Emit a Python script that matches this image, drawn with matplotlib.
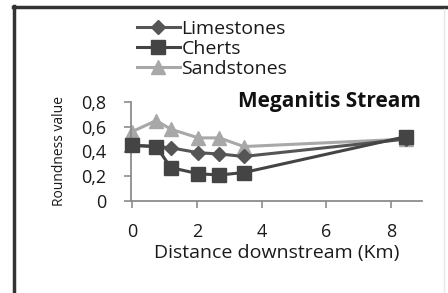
import matplotlib
matplotlib.use('Agg')
import matplotlib.pyplot as plt
from matplotlib.lines import Line2D

# distance downstream (km) and roundness values
distance = [0, 0.75, 1.2, 2.05, 2.7, 3.45, 8.45]
limestones = [0.45, 0.44, 0.43, 0.39, 0.38, 0.36, 0.50]
cherts = [0.45, 0.44, 0.27, 0.22, 0.21, 0.23, 0.52]
sandstones = [0.56, 0.65, 0.58, 0.51, 0.51, 0.44, 0.50]

xticks = [0, 2, 4, 6, 8]
xlabels = ['0', '2', '4', '6', '8']
yticks = [0, 0.2, 0.4, 0.6, 0.8]
ylabels = ['0', '0,2', '0,4', '0,6', '0,8']

plt.rcParams['font.family'] = ['Open Sans', 'DejaVu Sans']

W, H = 448, 293
fig = plt.figure(figsize=(W / 100, H / 100), dpi=100)
ax = fig.add_axes([131 / W, 1 - 201 / H, (422 - 131) / W, (201 - 102) / H])

ax.plot(distance, limestones, color='#555555', lw=2.2, marker='D', ms=7,
        label='Limestones', clip_on=False, zorder=3)
ax.plot(distance, cherts, color='#444444', lw=2.2, marker='s', ms=10,
        label='Cherts', clip_on=False, zorder=4)
ax.plot(distance, sandstones, color='#a8a8a8', lw=2.2, marker='^', ms=10,
        label='Sandstones', clip_on=False, zorder=2)

ax.set_xlim(-0.03, 8.95)
ax.set_ylim(0, 0.8)
ax.set_xticks(xticks)
ax.set_xticklabels(xlabels)
ax.set_yticks(yticks)
ax.set_yticklabels(ylabels)

for s in ['top', 'right']:
    ax.spines[s].set_visible(False)
for s in ['left', 'bottom']:
    ax.spines[s].set_color('#8c8c8c')
    ax.spines[s].set_linewidth(1.3)
ax.tick_params(direction='out', length=5, width=1.2, color='#8c8c8c',
               labelsize=13, labelcolor='#1a1a1a')
ax.tick_params(axis='x', pad=11)
ax.tick_params(axis='y', pad=13)

ax.set_xlabel('Distance downstream (Km)', fontsize=14, color='#1a1a1a', labelpad=2)
ax.set_ylabel('Roundness value', fontsize=10, color='#1a1a1a', labelpad=10)

fig.text(421 / W, 1 - 101 / H, 'Meganitis Stream', fontsize=15, fontweight='bold',
         ha='right', va='center', color='#111111')

fig.legend(loc='upper left', bbox_to_anchor=(129 / W, 1 - 12 / H), frameon=False,
           fontsize=14, handlelength=2.2, handletextpad=0.1, labelspacing=0.1,
           borderaxespad=0, labelcolor='#1a1a1a')

# outer picture frame
fig.add_artist(Line2D([14 / W, 14 / W], [0, 1 - 6 / H], color='#333333', lw=2.5,
                      transform=fig.transFigure))
fig.add_artist(Line2D([13 / W, 1], [1 - 6.5 / H, 1 - 6.5 / H], color='#333333', lw=2.5,
                      transform=fig.transFigure))
fig.add_artist(Line2D([444 / W, 444 / W], [0, 1 - 9 / H], color='#e6e6e6', lw=1,
                      transform=fig.transFigure))

fig.savefig('out.png', dpi=100)
